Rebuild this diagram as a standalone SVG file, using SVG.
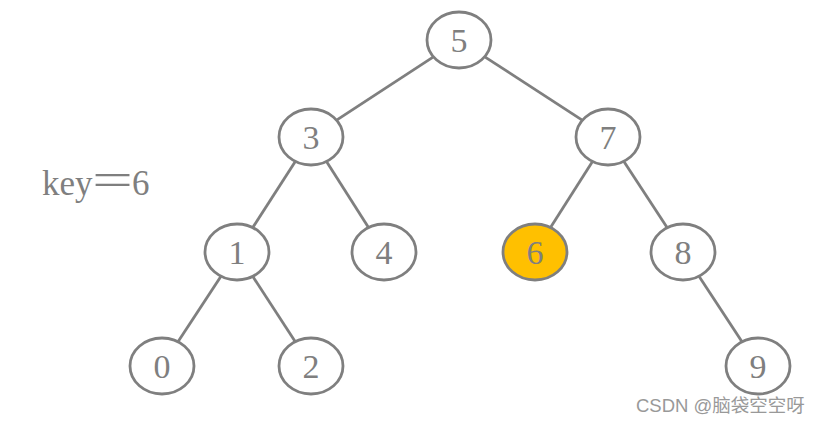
<svg xmlns="http://www.w3.org/2000/svg" width="822" height="424" viewBox="0 0 822 424">
<style>
.n{fill:#ffffff;stroke:#7f7f7f;stroke-width:2.8}
.h{fill:#ffc000}
.t{font-family:"Liberation Serif",serif;font-size:34px;fill:#7f7f7f;text-anchor:middle}
.k{font-family:"Liberation Serif",serif;font-size:35px;fill:#7f7f7f}
.e{stroke:#7f7f7f;stroke-width:2.8;fill:none}
.w{font-family:"Liberation Sans","Noto Sans CJK SC",sans-serif;font-size:18.5px;fill:#999999}
</style>
<rect width="822" height="424" fill="#ffffff"/>
<g id="connectors">
<line class="e" x1="433.4" y1="56.8" x2="336.6" y2="120.2"/>
<line class="e" x1="484.8" y1="56.8" x2="582.2" y2="120.2"/>
<line class="e" x1="295.3" y1="161.4" x2="252.7" y2="227.6"/>
<line class="e" x1="326.5" y1="161.4" x2="368.5" y2="227.6"/>
<line class="e" x1="592.5" y1="161.4" x2="550.5" y2="227.6"/>
<line class="e" x1="623.9" y1="161.4" x2="667.1" y2="227.6"/>
<line class="e" x1="221" y1="276.3" x2="178" y2="341.7"/>
<line class="e" x1="252.7" y1="276.3" x2="295.3" y2="341.7"/>
<line class="e" x1="699" y1="276.3" x2="742" y2="341.7"/>
</g>
<g id="n5"><ellipse class="n" cx="459" cy="40" rx="32" ry="28"/><text class="t" x="459" y="52">5</text></g>
<g id="n3"><ellipse class="n" cx="311" cy="137" rx="32" ry="28"/><text class="t" x="311" y="149">3</text></g>
<g id="n7"><ellipse class="n" cx="608" cy="137" rx="32" ry="28"/><text class="t" x="608" y="149">7</text></g>
<g id="n1"><ellipse class="n" cx="237" cy="252" rx="32" ry="28"/><text class="t" x="237" y="264">1</text></g>
<g id="n4"><ellipse class="n" cx="384" cy="252" rx="32" ry="28"/><text class="t" x="384" y="264">4</text></g>
<g id="n6"><ellipse class="n h" cx="535" cy="252" rx="32" ry="28"/><text class="t" x="535" y="264">6</text></g>
<g id="n8"><ellipse class="n" cx="683" cy="252" rx="32" ry="28"/><text class="t" x="683" y="264">8</text></g>
<g id="n0"><ellipse class="n" cx="162" cy="366" rx="32" ry="28"/><text class="t" x="162" y="378">0</text></g>
<g id="n2"><ellipse class="n" cx="311" cy="366" rx="32" ry="28"/><text class="t" x="311" y="378">2</text></g>
<g id="n9"><ellipse class="n" cx="758" cy="366" rx="32" ry="28"/><text class="t" x="758" y="378">9</text></g>
<text class="k" y="195"><tspan x="42">key</tspan><tspan x="92" font-size="46" textLength="41" lengthAdjust="spacingAndGlyphs">=</tspan><tspan x="132">6</tspan></text>
<text class="w" x="636" y="412">CSDN @脑袋空空呀</text>
</svg>
